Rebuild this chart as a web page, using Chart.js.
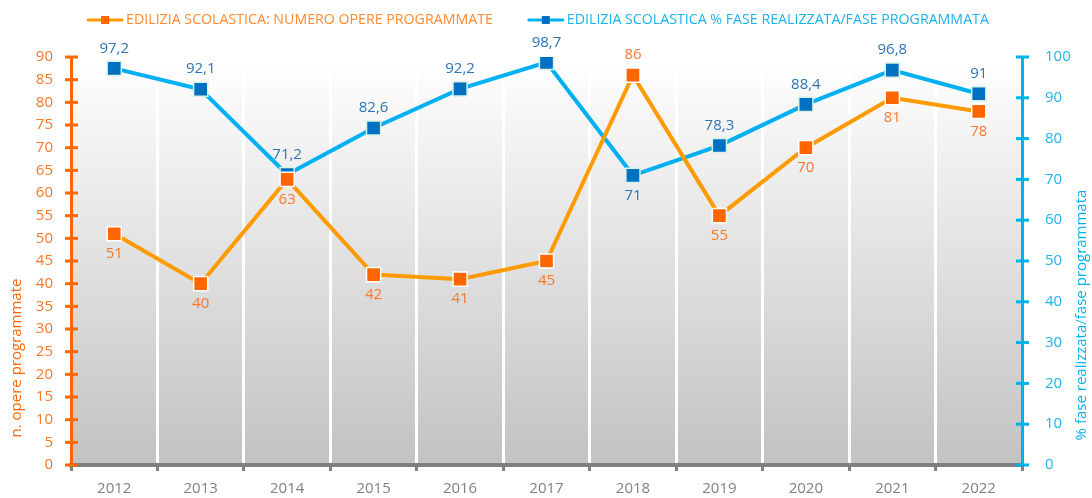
<!DOCTYPE html>
<html>
<head>
<meta charset="utf-8">
<script src="https://cdn.jsdelivr.net/npm/chart.js@4.4.1/dist/chart.umd.min.js"></script>
<style>
  html, body { margin: 0; padding: 0; background: #fff; }
  #wrap { width: 1092px; height: 498px; position: relative; }
</style>
</head>
<body>
<div id="wrap"><canvas id="chart"></canvas></div>
<script>
// data
const YEARS = ['2012', '2013', '2014', '2015', '2016', '2017', '2018', '2019', '2020', '2021', '2022'];
const OPERE = [51, 40, 63, 42, 41, 45, 86, 55, 70, 81, 78];
const PERC  = [97.2, 92.1, 71.2, 82.6, 92.2, 98.7, 71, 78.3, 88.4, 96.8, 91];
// label above (-1) or below (+1) each point
const OPERE_POS = [1, 1, 1, 1, 1, 1, -1, 1, 1, 1, 1];
const PERC_POS  = [-1, -1, -1, -1, -1, -1, 1, -1, -1, -1, -1];

const FONT = '"Open Sans", "DejaVu Sans", sans-serif';
const ORANGE_LINE = '#FF9A00';
const ORANGE_MARK = '#FF6600';
const ORANGE_TEXT = '#F8782A';
const BLUE_LINE = '#00B0F0';
const BLUE_MARK = '#0070C0';
const BLUE_TEXT = '#2E75B6';
const GRAY = '#808080';

const bgPlugin = {
  id: 'bg',
  beforeDraw(chart) {
    const { ctx, chartArea: a } = chart;
    const grad = ctx.createLinearGradient(0, a.top, 0, a.bottom);
    grad.addColorStop(0, '#ffffff');
    grad.addColorStop(1, '#c2c2c2');
    ctx.save();
    ctx.fillStyle = grad;
    ctx.fillRect(a.left, a.top, a.right - a.left, a.bottom - a.top);
    ctx.restore();
  }
};

// legend drawn by hand: line + square icon, coloured text
function drawLegend(chart) {
  const ctx = chart.ctx;
  const ds = chart.data.datasets;
  ctx.save();
  ctx.font = '14.2px ' + FONT;
  ctx.textBaseline = 'middle';
  ctx.textAlign = 'left';
  const w = ds.map(d => ctx.measureText(d.label).width);
  const icon = 36, gapIcon = 3, gapItem = 35;
  const total = 2 * (icon + gapIcon) + w[0] + w[1] + gapItem;
  let x = 538 - total / 2;
  const y = 20;
  const cols = [[ORANGE_LINE, ORANGE_MARK, '#FF8A2E'], [BLUE_LINE, BLUE_MARK, '#1CB2EE']];
  ds.forEach((d, i) => {
    const [lc, mc, tc] = cols[i];
    ctx.strokeStyle = lc; ctx.lineWidth = 3; ctx.lineCap = 'round';
    ctx.beginPath(); ctx.moveTo(x + 1, y); ctx.lineTo(x + icon - 1, y); ctx.stroke();
    ctx.fillStyle = mc;
    ctx.fillRect(x + icon / 2 - 4, y - 4, 8, 8);
    x += icon + gapIcon;
    ctx.fillStyle = tc;
    ctx.fillText(d.label, x, y);
    x += w[i] + gapItem;
  });
  ctx.restore();
}

// tick marks crossing the y axes, axis titles, value labels
const decoPlugin = {
  id: 'deco',
  afterDatasetsDraw(chart) {
    const { ctx, chartArea: a } = chart;
    ctx.save();
    [['y', a.left, ORANGE_MARK], ['y1', a.right, BLUE_LINE]].forEach(([id, x, col]) => {
      const s = chart.scales[id];
      ctx.strokeStyle = col; ctx.lineWidth = 3;
      s.ticks.forEach(t => {
        const y = s.getPixelForValue(t.value);
        ctx.beginPath(); ctx.moveTo(x - 6, y); ctx.lineTo(x + 7, y); ctx.stroke();
      });
    });

    ctx.font = '15px ' + FONT;
    ctx.textAlign = 'center';
    ctx.textBaseline = 'middle';
    ctx.save();
    ctx.translate(17, 358); ctx.rotate(-Math.PI / 2);
    ctx.fillStyle = ORANGE_MARK;
    ctx.fillText('n. opere programmate', 0, 0);
    ctx.restore();
    ctx.save();
    ctx.translate(1082, 315); ctx.rotate(-Math.PI / 2);
    ctx.fillStyle = BLUE_LINE;
    ctx.fillText('% fase realizzata/fase programmata', 0, 0);
    ctx.restore();

    ctx.font = '15px ' + FONT;
    [[0, OPERE, OPERE_POS, ORANGE_TEXT], [1, PERC, PERC_POS, BLUE_TEXT]].forEach(([di, vals, pos, col]) => {
      const meta = chart.getDatasetMeta(di);
      ctx.fillStyle = col;
      meta.data.forEach((pt, i) => {
        const txt = String(vals[i]).replace('.', ',');
        ctx.fillText(txt, pt.x, pt.y + pos[i] * 20);
      });
    });
    ctx.restore();
    drawLegend(chart);
  }
};

new Chart(document.getElementById('chart'), {
  type: 'line',
  data: {
    labels: YEARS,
    datasets: [
      {
        label: 'EDILIZIA SCOLASTICA: NUMERO OPERE PROGRAMMATE',
        data: OPERE, yAxisID: 'y',
        borderColor: ORANGE_LINE, borderWidth: 4,
        pointStyle: 'rect', pointRadius: 10, pointHoverRadius: 10,
        pointBackgroundColor: ORANGE_MARK, pointBorderColor: '#ffffff', pointBorderWidth: 1.5,
        tension: 0
      },
      {
        label: 'EDILIZIA SCOLASTICA % FASE REALIZZATA/FASE PROGRAMMATA',
        data: PERC, yAxisID: 'y1',
        borderColor: BLUE_LINE, borderWidth: 4,
        pointStyle: 'rect', pointRadius: 10, pointHoverRadius: 10,
        pointBackgroundColor: BLUE_MARK, pointBorderColor: '#d6f2ea', pointBorderWidth: 1.5,
        tension: 0
      }
    ]
  },
  options: {
    responsive: true,
    maintainAspectRatio: false,
    animation: false,
    layout: { padding: { left: 0, right: 0, top: 57, bottom: 0 } },
    plugins: {
      tooltip: { enabled: false },
      legend: { display: false }
    },
    scales: {
      x: {
        offset: true,
        grid: { color: '#ffffff', lineWidth: 3, offset: true, tickColor: GRAY, tickWidth: 3, tickLength: 6 },
        border: { color: GRAY, width: 4 },
        ticks: { color: GRAY, font: { family: FONT, size: 15 }, padding: 9 },
        afterFit(s) { s.height = 33; }
      },
      y: {
        position: 'left',
        min: 0, max: 90,
        ticks: { stepSize: 5, color: ORANGE_TEXT, font: { family: FONT, size: 15 }, padding: 10 },
        grid: { display: false },
        border: { color: ORANGE_MARK, width: 3 },
        afterFit(s) { s.width = 71; }
      },
      y1: {
        position: 'right',
        min: 0, max: 100,
        ticks: { stepSize: 10, color: '#1FB4EE', font: { family: FONT, size: 15 }, padding: 15 },
        grid: { display: false },
        border: { color: BLUE_LINE, width: 3 },
        afterFit(s) { s.width = 70; }
      }
    }
  },
  plugins: [bgPlugin, decoPlugin]
});
</script>
</body>
</html>
